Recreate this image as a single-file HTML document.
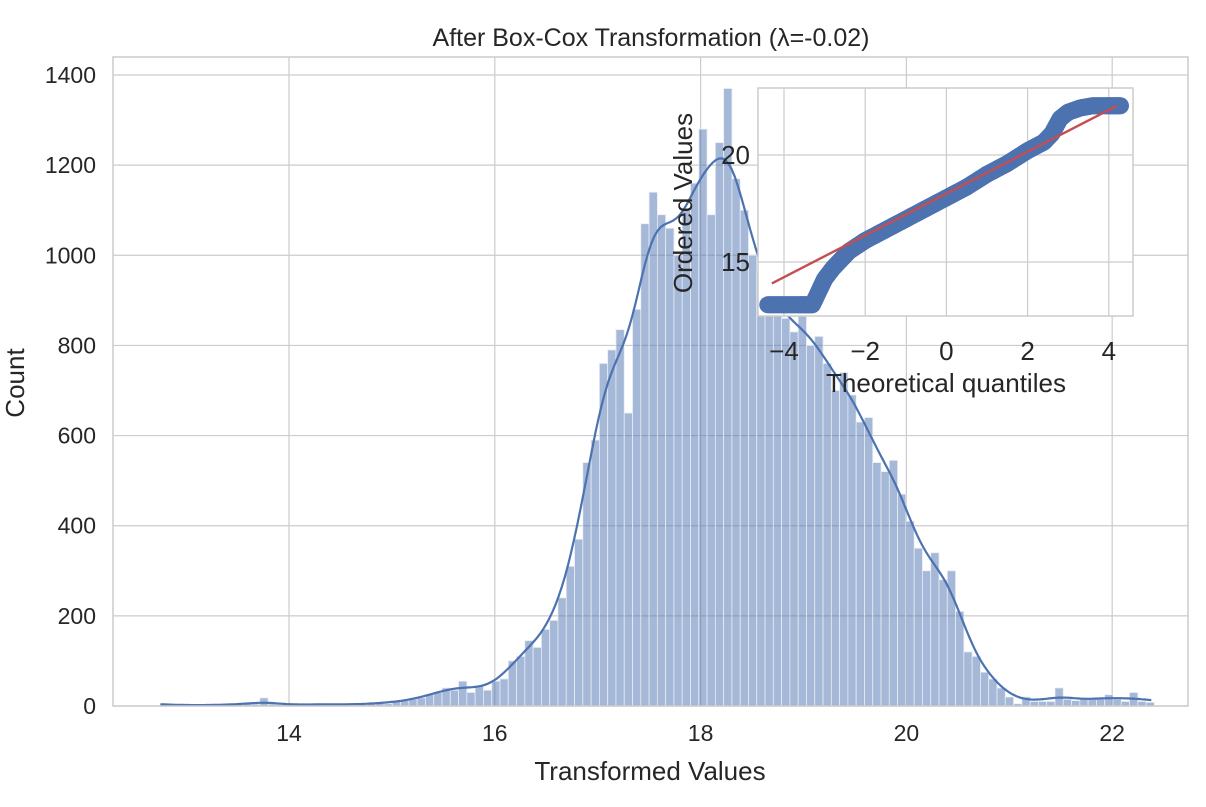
<!DOCTYPE html>
<html><head><meta charset="utf-8"><style>
body{margin:0;background:#fff;font-family:"Liberation Sans","DejaVu Sans",sans-serif;}
svg text{font-family:"Liberation Sans","DejaVu Sans",sans-serif;fill:#262626;}
</style></head><body>
<svg id="c" width="1206" height="802"></svg>
<script>
const binStart = 12.75, binWidth = 0.0805;
const counts = [5,3,2,2,1,2,3,2,4,3,5,4,18,4,3,
4,3,2,3,5,4,3,5,2,4,6,8,5,
10,12,15,18,25,30,40,35,55,30,45,35,55,
60,100,110,145,130,170,190,240,310,370,540,590,
760,790,835,650,880,1070,1140,1090,1060,1000,1100,1160,1280,1090,1250,1370,1170,1100,1000,960,930,880,860,830,870,800,820,760,700,740,690,630,640,540,520,545,470,410,350,300,340,280,300,210,120,110,75,60,40,20,5,20,10,10,10,40,15,12,15,15,15,25,15,10,30,10,8];
const xTicks = [14,16,18,20,22];
const yTicks = [0,200,400,600,800,1000,1200,1400];
const qqTheo = [-4.4,-4.0,-3.6,-3.3,-3.1,-3.0,-2.8,-2.6,-2.4,-2.0,-1.5,-1.0,-0.5,0,0.5,1.0,1.5,2.0,2.4,2.6,2.8,3.0,3.3,3.6,4.0,4.3];
const qqVals = [13.0,13.0,13.0,13.0,13.8,14.2,14.7,15.1,15.5,16.0,16.5,17.0,17.5,18.0,18.5,19.1,19.6,20.2,20.6,21.0,21.7,22.0,22.2,22.3,22.3,22.3];
const qqXTicks = [-4,-2,0,2,4];
const qqYTicks = [15,20];
const fitLine = [[-4.3,14.0],[4.2,22.3]];

const NS="http://www.w3.org/2000/svg", svg=document.getElementById('c');
function mk(t,a,p){const e=document.createElementNS(NS,t);for(const k in a)e.setAttribute(k,a[k]);(p||svg).appendChild(e);return e;}
const L=113,R=1188,T=57,B=706;
const xs=v=>289+(v-14)*102.9, ys=v=>B-v*(631/1400);
for(const t of xTicks){const g=mk('line',{x1:xs(t),x2:xs(t),y1:T,y2:B,stroke:'#cccccc','stroke-width':1.2});

const tx=mk('text',{x:xs(t),y:B+35,'text-anchor':'middle','font-size':23});tx.textContent=t;
}
for(const t of yTicks){const g=mk('line',{x1:L,x2:R,y1:ys(t),y2:ys(t),stroke:'#cccccc','stroke-width':1.2});

const tx=mk('text',{x:L-17,y:ys(t)+8,'text-anchor':'end','font-size':23});tx.textContent=t;
}
counts.forEach((c,i)=>{const x0=xs(binStart+i*binWidth),x1=xs(binStart+(i+1)*binWidth);
const b=mk('rect',{x:x0,y:ys(c),width:x1-x0,height:B-ys(c),fill:'rgba(76,114,176,0.5)',stroke:'#e8edf5','stroke-width':0.8});
});
let pts=[];const bw=0.14;
for(let x=12.75;x<=22.4;x+=0.03){let s=0,w=0;counts.forEach((c,i)=>{const cx=binStart+(i+0.5)*binWidth;const k=Math.exp(-0.5*((x-cx)/bw)**2);s+=k*c;w+=k;});pts.push(xs(x).toFixed(1)+','+ys(s/w).toFixed(1));}
const kde=mk('polyline',{points:pts.join(' '),fill:'none',stroke:'#4c72b0','stroke-width':2.2});

const fr=mk('rect',{x:L,y:T,width:R-L,height:B-T,fill:'none',stroke:'#cccccc','stroke-width':1.5});

let t=mk('text',{x:651,y:46,'text-anchor':'middle','font-size':25});t.textContent='After Box-Cox Transformation (λ=-0.02)';

t=mk('text',{x:650,y:780,'text-anchor':'middle','font-size':26});t.textContent='Transformed Values';

t=mk('text',{x:24,y:383,'text-anchor':'middle','font-size':26,transform:'rotate(-90 24 383)'});t.textContent='Count';

const iL=758,iR=1133,iT=88,iB=316;
const qx=v=>784+(v+4)*40.6, qy=v=>155-(v-20)*21.4;
const bg=mk('rect',{x:iL,y:iT,width:iR-iL,height:iB-iT,fill:'#fff'});

for(const v of qqXTicks){const g=mk('line',{x1:qx(v),x2:qx(v),y1:iT,y2:iB,stroke:'#cccccc','stroke-width':1.2});

const tx=mk('text',{x:qx(v),y:iB+44,'text-anchor':'middle','font-size':26});tx.textContent=v<0?'−'+(-v):v;
}
for(const v of qqYTicks){const g=mk('line',{x1:iL,x2:iR,y1:qy(v),y2:qy(v),stroke:'#cccccc','stroke-width':1.2});

const tx=mk('text',{x:iL-8,y:qy(v)+9,'text-anchor':'end','font-size':26});tx.textContent=v;
}
for(let i=0;i<qqTheo.length-1;i++){for(let s=0;s<1;s+=0.08){const xv=qqTheo[i]+(qqTheo[i+1]-qqTheo[i])*s,yv=qqVals[i]+(qqVals[i+1]-qqVals[i])*s;
const c=mk('circle',{cx:qx(xv),cy:qy(yv),r:8.5,fill:'#4c72b0'});
}}
const fl=mk('line',{x1:qx(fitLine[0][0]),y1:qy(fitLine[0][1]),x2:qx(fitLine[1][0]),y2:qy(fitLine[1][1]),stroke:'#c44e52','stroke-width':2.4});

const ifr=mk('rect',{x:iL,y:iT,width:iR-iL,height:iB-iT,fill:'none',stroke:'#cccccc','stroke-width':1.5});

t=mk('text',{x:946,y:392,'text-anchor':'middle','font-size':26});t.textContent='Theoretical quantiles';

t=mk('text',{x:692,y:203,'text-anchor':'middle','font-size':26,transform:'rotate(-90 692 203)'});t.textContent='Ordered Values';

</script>
</body></html>
